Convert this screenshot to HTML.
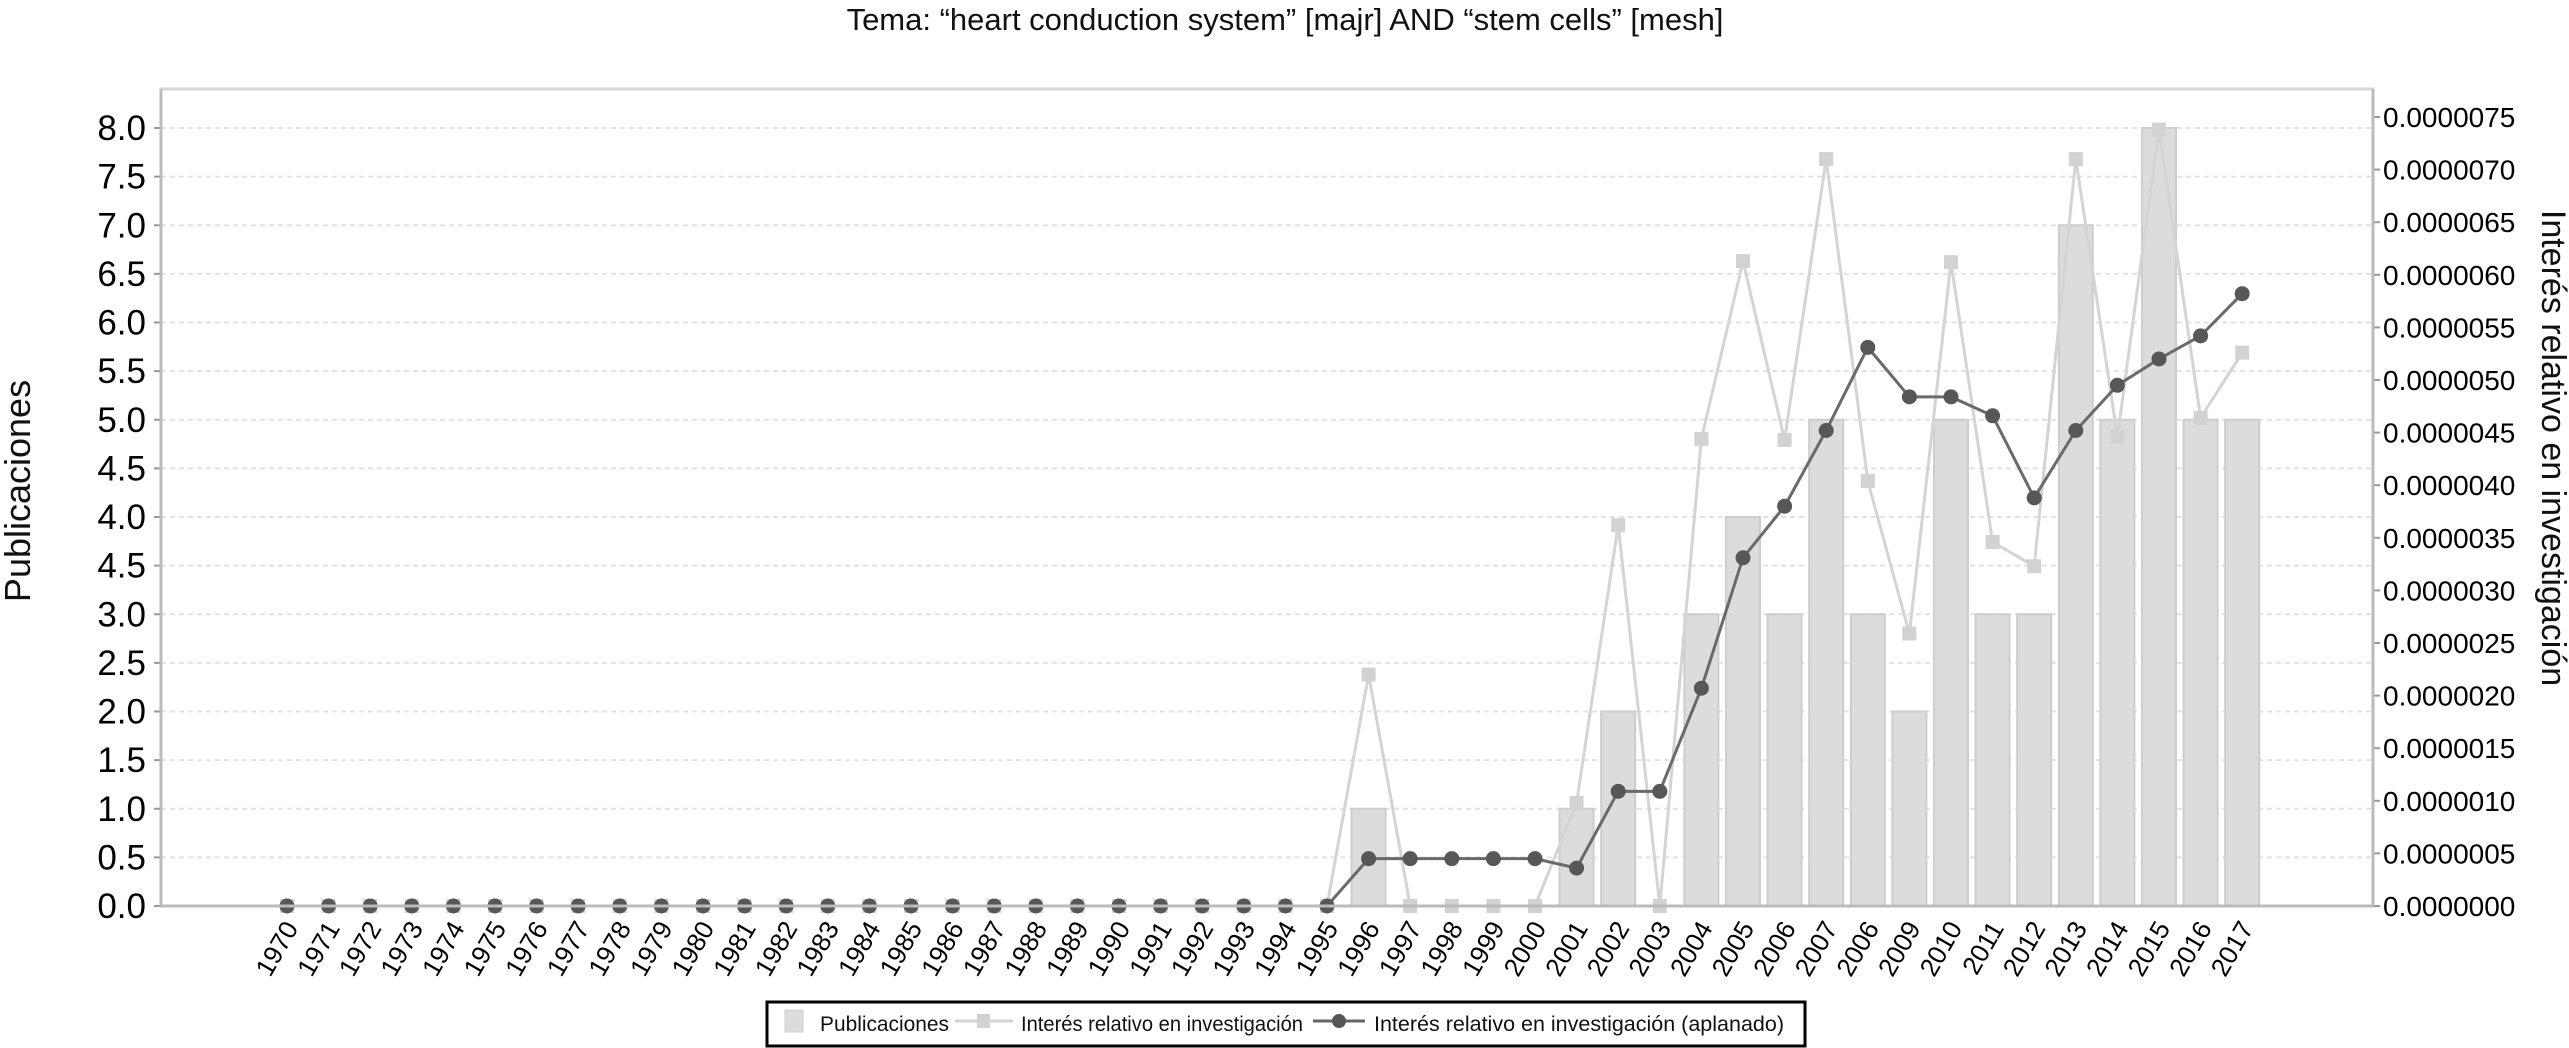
<!DOCTYPE html>
<html><head><meta charset="utf-8"><style>
html,body{margin:0;padding:0;background:#fff;}
svg{display:block;font-family:"Liberation Sans",Arial,sans-serif;}
</style></head><body>
<svg id="chart" width="2569" height="1048" viewBox="0 0 2569 1048" xmlns="http://www.w3.org/2000/svg">
<text x="1285" y="30" font-size="31" text-anchor="middle" fill="#111">Tema: “heart conduction system” [majr] AND “stem cells” [mesh]</text>
<text transform="translate(30,491) rotate(-90)" font-size="36" text-anchor="middle" fill="#111">Publicaciones</text>
<text transform="translate(2542,448) rotate(90)" font-size="34" text-anchor="middle" fill="#111">Interés relativo en investigación</text>
<g id="grid"></g><g id="bars"></g><g id="light"></g><g id="dark"></g><g id="axes"></g>
<g>
<rect x="767" y="1002" width="1038" height="44" fill="#fff" stroke="#000" stroke-width="3"/>
<rect x="785" y="1010" width="18" height="22" fill="#dcdcdc" stroke="#cfcfcf"/>
<text x="820" y="1031" font-size="21" textLength="129" lengthAdjust="spacingAndGlyphs" fill="#111">Publicaciones</text>
<line x1="955" y1="1021" x2="1013" y2="1021" stroke="#d2d2d2" stroke-width="3"/>
<rect x="977" y="1014" width="13" height="14" fill="#d2d2d2"/>
<text x="1021" y="1031" font-size="21" textLength="282" lengthAdjust="spacingAndGlyphs" fill="#111">Interés relativo en investigación</text>
<line x1="1313" y1="1021" x2="1365" y2="1021" stroke="#666" stroke-width="3"/>
<circle cx="1339" cy="1021" r="7" fill="#555"/>
<text x="1374" y="1031" font-size="21" textLength="410" lengthAdjust="spacingAndGlyphs" fill="#111">Interés relativo en investigación (aplanado)</text>
</g>
</svg>
<script>
const years=["1970","1971","1972","1973","1974","1975","1976","1977","1978","1979","1980","1981","1982","1983","1984","1985","1986","1987","1988","1989","1990","1991","1992","1993","1994","1995","1996","1997","1998","1999","2000","2001","2002","2003","2004","2005","2006","2007","2006","2009","2010","2011","2012","2013","2014","2015","2016","2017"];
const publicaciones=[0,0,0,0,0,0,0,0,0,0,0,0,0,0,0,0,0,0,0,0,0,0,0,0,0,0,1,0,0,0,0,1,2,0,3,4,3,5,3,2,5,3,3,7,5,8,5,5];
const interes=[0,0,0,0,0,0,0,0,0,0,0,0,0,0,0,0,0,0,0,0,0,0,0,0,0,0,2.2,0,0,0,0,0.98,3.62,0,4.44,6.13,4.43,7.1,4.04,2.59,6.12,3.46,3.23,7.1,4.46,7.38,4.64,5.26];
const aplanado=[0,0,0,0,0,0,0,0,0,0,0,0,0,0,0,0,0,0,0,0,0,0,0,0,0,0,0.45,0.45,0.45,0.45,0.45,0.36,1.09,1.09,2.07,3.31,3.8,4.52,5.31,4.84,4.84,4.66,3.88,4.52,4.95,5.2,5.42,5.82];
const leftTicks=[0,0.5,1,1.5,2,2.5,3,3.5,4,4.5,5,5.5,6,6.5,7,7.5,8];
const leftTickLabels=["0.0","0.5","1.0","1.5","2.0","2.5","3.0","4.5","4.0","4.5","5.0","5.5","6.0","6.5","7.0","7.5","8.0"];
const rightTicks=[0,0.5,1,1.5,2,2.5,3,3.5,4,4.5,5,5.5,6,6.5,7,7.5];
const rightTickLabels=["0.0000000","0.0000005","0.0000010","0.0000015","0.0000020","0.0000025","0.0000030","0.0000035","0.0000040","0.0000045","0.0000050","0.0000055","0.0000060","0.0000065","0.0000070","0.0000075"];

const NS="http://www.w3.org/2000/svg";
const L=161,R=2373,T=89,B=906;
const x=i=>287+41.6*i;
const yL=v=>B-v*97.25;
const yR=v=>B-v*105.2; // v in 1e-6 units
function mk(tag,attrs,parent){const e=document.createElementNS(NS,tag);for(const k in attrs)e.setAttribute(k,attrs[k]);document.getElementById(parent).appendChild(e);return e;}

mk('rect',{x:L,y:T,width:R-L,height:B-T,fill:'none',stroke:'#d6d6d6','stroke-width':3},'grid');
leftTicks.forEach((v,i)=>{
  if(v>0){const g=mk('line',{x1:L,x2:R,y1:yL(v),y2:yL(v),stroke:'#e2e2e2','stroke-width':2,'stroke-dasharray':'5 4'},'grid');
  
  }
  mk('line',{x1:L-7,x2:L,y1:yL(v),y2:yL(v),stroke:'#999','stroke-width':2},'axes');
  const t=mk('text',{x:146,y:yL(v)+12,'font-size':35,'text-anchor':'end',fill:'#000'},'axes');
  t.textContent=leftTickLabels[i];
  
  
});
rightTicks.forEach((v,i)=>{
  mk('line',{x1:R,x2:R+7,y1:yR(v),y2:yR(v),stroke:'#999','stroke-width':2},'axes');
  const t=mk('text',{x:2383,y:yR(v)+10,'font-size':28,fill:'#000'},'axes');
  t.textContent=rightTickLabels[i];
  
  
});
mk('line',{x1:L,x2:L,y1:T,y2:B,stroke:'#bbb','stroke-width':3},'axes');
mk('line',{x1:R,x2:R,y1:T,y2:B,stroke:'#bbb','stroke-width':3},'axes');
mk('line',{x1:L,x2:R,y1:B,y2:B,stroke:'#bbb','stroke-width':3},'axes');

years.forEach((yr,i)=>{
  const t=mk('text',{transform:`translate(${x(i)+12},${B+22}) rotate(-60)`,'font-size':26,'text-anchor':'end',fill:'#000'},'axes');
  t.textContent=yr;
  
  
});

publicaciones.forEach((v,i)=>{
  if(v<=0)return;
  const b=mk('rect',{x:x(i)-17,y:yL(v),width:34,height:B-yL(v),fill:'#dcdcdc',stroke:'#cdcdcd','stroke-width':2},'bars');
  
  
});

const lp=interes.map((v,i)=>x(i)+','+yR(v)).join(' ');
const ll=mk('polyline',{points:lp,fill:'none',stroke:'#d4d4d4','stroke-width':3},'light');


interes.forEach((v,i)=>{
  const m=mk('rect',{x:x(i)-7,y:yR(v)-7,width:14,height:14,fill:'#d2d2d2'},'light');
  
  
});
const dp=aplanado.map((v,i)=>x(i)+','+yR(v)).join(' ');
const dl=mk('polyline',{points:dp,fill:'none',stroke:'#6a6a6a','stroke-width':3},'dark');


aplanado.forEach((v,i)=>{
  const c=mk('circle',{cx:x(i),cy:yR(v),r:7.5,fill:'#575757'},'dark');
  
  
});
</script>
</body></html>
